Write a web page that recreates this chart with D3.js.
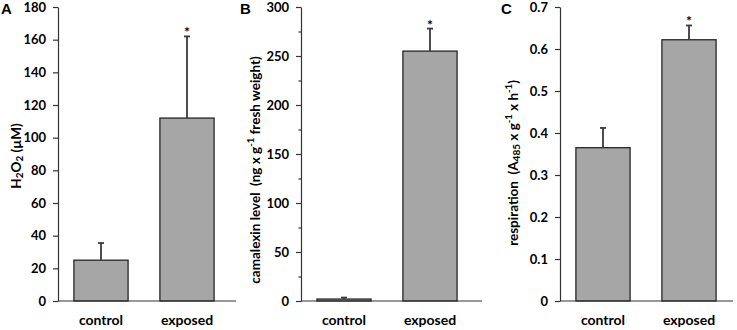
<!DOCTYPE html>
<html>
<head>
<meta charset="utf-8">
<script src="https://cdn.jsdelivr.net/npm/d3@7"></script>
<style>
  html, body { margin: 0; padding: 0; background: #fff; }
  svg { display: block; }
  text { font-family: Lato, "Open Sans", sans-serif; font-weight: bold; fill: #000; white-space: pre; }
</style>
</head>
<body>
<svg id="chart" width="737" height="330"></svg>
<script>
// ---- data ----
const categories = ["control", "exposed"];
const significant = [false, true];

const h2o2Values = [25, 112];
const h2o2Errors = [10.5, 50];
const h2o2Ticks = [0, 20, 40, 60, 80, 100, 120, 140, 160, 180];

const camalexinValues = [2, 255];
const camalexinErrors = [1.5, 23];
const camalexinTicks = [0, 50, 100, 150, 200, 250, 300];
const camalexinMinorTicks = [25, 75, 125, 175, 225, 275];

const respirationValues = [0.365, 0.622];
const respirationErrors = [0.047, 0.034];
const respirationTicks = [0, 0.1, 0.2, 0.3, 0.4, 0.5, 0.6, 0.7];

const panelLetters = ["A", "B", "C"];

// ---- layout ----
const svg = d3.select("#chart");
const yTop = 7, yBottom = 301;

const panels = [
  { letter: panelLetters[0], values: h2o2Values, errors: h2o2Errors, ticks: h2o2Ticks, minor: [],
    max: 180, axisX: 58, right: 236, letterX: 1, titleX: 16, titleY: 156, fmt: d => d,
    title: [{t: "H"}, {t: "2", sub: true}, {t: "O"}, {t: "2", sub: true}, {t: " (µM)"}] },
  { letter: panelLetters[1], values: camalexinValues, errors: camalexinErrors, ticks: camalexinTicks, minor: camalexinMinorTicks,
    max: 300, axisX: 301, right: 482, letterX: 240, titleX: 255, titleY: 170, fmt: d => d,
    title: [{t: "camalexin level  (ng x g"}, {t: "-1", sup: true}, {t: " fresh weight)"}] },
  { letter: panelLetters[2], values: respirationValues, errors: respirationErrors, ticks: respirationTicks, minor: [],
    max: 0.7, axisX: 560, right: 733, letterX: 501, titleX: 513, titleY: 163, fmt: d => d === 0 ? "0" : d3.format(".1f")(d),
    title: [{t: "respiration  (A"}, {t: "485", sub: true}, {t: " x g"}, {t: "-1", sup: true}, {t: " x h"}, {t: "-1", sup: true}, {t: ")"}] }
];

panels.forEach(p => {
  const g = svg.append("g");
  const y = d3.scaleLinear().domain([0, p.max]).range([yBottom, yTop]);
  const x = d3.scaleBand().domain(categories)
    .range([p.axisX, p.axisX + 172]).paddingInner(0.37).paddingOuter(0.185);

  // bars
  g.selectAll("rect.bar").data(categories).join("rect")
    .attr("x", d => x(d))
    .attr("y", (d, i) => y(p.values[i]))
    .attr("width", x.bandwidth())
    .attr("height", (d, i) => y(0) - y(p.values[i]))
    .attr("fill", "#a6a6a6")
    .attr("stroke", "#262626")
    .attr("stroke-width", 1.3);

  // error bars
  const cx = d => x(d) + x.bandwidth() / 2;
  g.selectAll("line.err").data(categories).join("line")
    .attr("x1", cx).attr("x2", cx)
    .attr("y1", (d, i) => y(p.values[i]))
    .attr("y2", (d, i) => y(p.values[i] + p.errors[i]))
    .attr("stroke", "#3a3a3a").attr("stroke-width", 1.8);
  g.selectAll("line.cap").data(categories).join("line")
    .attr("x1", d => cx(d) - 3).attr("x2", d => cx(d) + 3)
    .attr("y1", (d, i) => y(p.values[i] + p.errors[i]))
    .attr("y2", (d, i) => y(p.values[i] + p.errors[i]))
    .attr("stroke", "#3a3a3a").attr("stroke-width", 1.8);

  // significance asterisk
  g.selectAll("text.star").data(categories.filter((d, i) => significant[i])).join("text")
    .attr("x", cx)
    .attr("y", d => { const i = categories.indexOf(d); return y(p.values[i] + p.errors[i]) + 1; })
    .attr("text-anchor", "middle")
    .style("font-size", "14px")
    .text("*");

  // y axis
  const yAxis = d3.axisLeft(y).tickValues(p.ticks).tickFormat(p.fmt)
    .tickSize(5).tickSizeOuter(0).tickPadding(7);
  const ya = g.append("g").attr("transform", `translate(${p.axisX},0)`).call(yAxis);
  ya.select(".domain").attr("stroke", "#333").attr("stroke-width", 1.2);
  ya.selectAll(".tick line").attr("stroke", "#333").attr("stroke-width", 1.2);
  ya.selectAll(".tick text").style("font-size", "13px").style("font-family", "Lato, sans-serif")
    .style("font-weight", "bold").attr("fill", "#000");

  if (p.minor.length) {
    const minorAxis = d3.axisLeft(y).tickValues(p.minor).tickFormat("").tickSize(2.5).tickSizeOuter(0);
    const ma = g.append("g").attr("transform", `translate(${p.axisX},0)`).call(minorAxis);
    ma.select(".domain").remove();
    ma.selectAll(".tick line").attr("stroke", "#333").attr("stroke-width", 1.2);
  }

  // x axis line
  g.append("line")
    .attr("x1", p.axisX).attr("x2", p.right)
    .attr("y1", y(0)).attr("y2", y(0))
    .attr("stroke", "#333").attr("stroke-width", 1.2);

  // category labels
  g.selectAll("text.cat").data(categories).join("text")
    .attr("x", cx).attr("y", 325)
    .attr("text-anchor", "middle")
    .style("font-size", "14px")
    .text(d => d);

  // axis title
  const t = g.append("text")
    .attr("transform", `translate(${p.titleX},${p.titleY}) rotate(-90)`)
    .attr("text-anchor", "middle")
    .attr("dominant-baseline", "central")
    .style("font-size", "13.5px");
  p.title.forEach(part => {
    const ts = t.append("tspan").text(part.t);
    if (part.sub) ts.style("font-size", "10px").attr("baseline-shift", "-25%");
    if (part.sup) ts.style("font-size", "9.5px").attr("baseline-shift", "45%");
  });

  // panel letter
  g.append("text")
    .attr("x", p.letterX).attr("y", 14)
    .style("font-family", "'Liberation Sans', Arial, sans-serif")
    .style("font-size", "15px")
    .text(p.letter);
});
</script>
</body>
</html>
